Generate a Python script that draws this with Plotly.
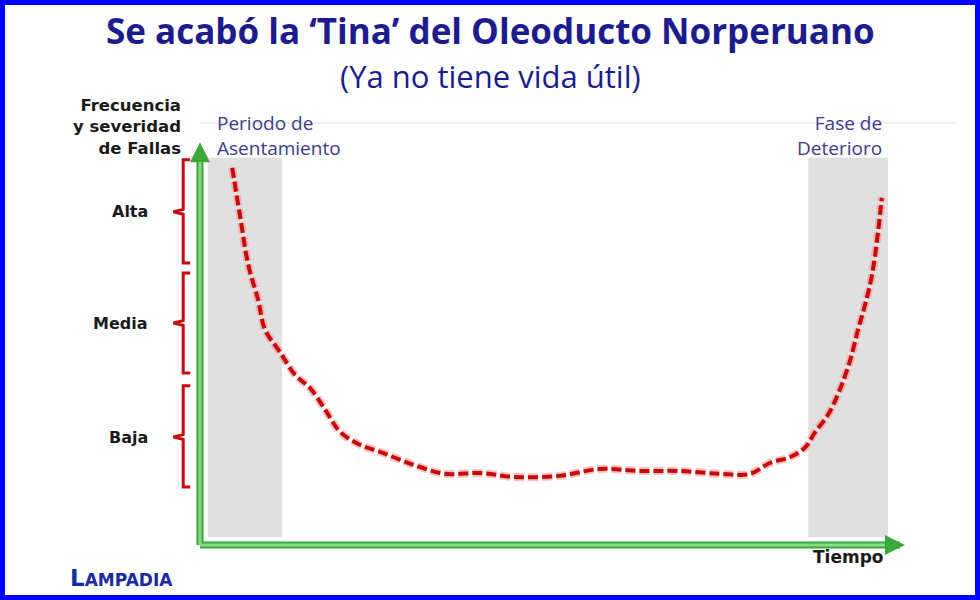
import plotly.graph_objects as go

# ---- data (time 0..100, frequency/severity 0..100) ----
tiempo = [4.6, 5.7, 6.9, 8.3, 9.3, 11.4, 13.6, 15.7, 17.9, 20.0, 22.9, 25.7, 28.6,
          31.4, 35.0, 40.0, 45.0, 51.4, 57.1, 62.9, 68.6, 74.3, 78.6, 81.4, 84.3,
          86.4, 87.9, 89.7, 91.4, 92.9, 94.0, 95.0, 96.0, 96.9, 97.4]
frecuencia = [94.3, 82.5, 70.0, 61.3, 53.8, 48.3, 42.5, 39.3, 33.8, 28.3, 25.0, 23.3, 21.3,
              19.5, 17.8, 18.0, 17.0, 17.3, 19.0, 18.5, 18.5, 17.8, 17.8, 20.5, 22.0,
              24.3, 28.3, 32.5, 38.8, 46.3, 53.8, 60.0, 67.5, 78.8, 86.8]

niveles = ["Alta", "Media", "Baja"]
nivel_top = [96.3, 68.0, 39.8]
nivel_bot = [70.5, 43.0, 14.5]
nivel_mid = [83.3, 55.5, 27.0]

fases = ["Periodo de<br>Asentamiento", "Fase de<br>Deterioro"]
fase_x0 = [1.1, 86.9]
fase_x1 = [11.7, 98.3]
fase_y0 = 2.0
fase_y1 = 96.8

NAVY = "#1c1c8e"
SLATE = "#3b3b8c"
RED = "#c40c0c"
GREEN_D = "#3aa83a"
GREEN_L = "#86dd86"

fig = go.Figure()

shapes = []
# grey phase bands
for a, b in zip(fase_x0, fase_x1):
    shapes.append(dict(type="rect", xref="x", yref="y", x0=a, x1=b, y0=fase_y0, y1=fase_y1,
                       fillcolor="#e0e0e0", line=dict(width=0), layer="below"))
# faint guide line
shapes.append(dict(type="line", xref="x", yref="y", x0=0, x1=108, y0=105.5, y1=105.5,
                   line=dict(color="#f0f0f0", width=2), layer="below"))

# braces
for t, b, m in zip(nivel_top, nivel_bot, nivel_mid):
    xv = -2.4  # vertical stroke
    xh = -1.4  # hooks to the right
    xp = -3.8  # point to the left
    path = (f"M {xh},{t} L {xv},{t} L {xv},{m+0.6} L {xp},{m} L {xv},{m-0.6} "
            f"L {xv},{b} L {xh},{b}")
    shapes.append(dict(type="path", xref="x", yref="y", path=path,
                       line=dict(color=RED, width=3)))

# green axes
for w, c in [(7, GREEN_D), (3, GREEN_L)]:
    shapes.append(dict(type="line", xref="x", yref="y", x0=0, y0=0, x1=0, y1=98.5,
                       line=dict(color=c, width=w)))
    shapes.append(dict(type="line", xref="x", yref="y", x0=0, y0=0, x1=100.0, y1=0,
                       line=dict(color=c, width=w)))

# blue frame
shapes.append(dict(type="rect", xref="paper", yref="paper", x0=0, x1=1, y0=0, y1=1,
                   line=dict(color="#0000ff", width=10)))

# failure curve: halo + dashed line
fig.add_trace(go.Scatter(x=tiempo, y=frecuencia, mode="lines",
                         line=dict(color="rgba(255,140,140,0.55)", width=8,
                                   dash="10px,4px", shape="spline"),
                         hoverinfo="skip", showlegend=False))
fig.add_trace(go.Scatter(x=tiempo, y=frecuencia, mode="lines",
                         line=dict(color=RED, width=4, dash="10px,4px", shape="spline"),
                         hoverinfo="skip", showlegend=False))

ann = []
# arrowheads
ann.append(dict(x=0, y=100.7, ax=0, ay=96.5, xref="x", yref="y", axref="x", ayref="y",
                text="", showarrow=True, arrowhead=2, arrowsize=1.0, arrowwidth=4,
                arrowcolor=GREEN_D))
ann.append(dict(x=100.7, y=0, ax=98.5, ay=0, xref="x", yref="y", axref="x", ayref="y",
                text="", showarrow=True, arrowhead=2, arrowsize=1.0, arrowwidth=4,
                arrowcolor=GREEN_D))

ann.append(dict(x=0.5, y=1 - 31 / 600, xref="paper", yref="paper", showarrow=False,
                text="<b>Se acabó la ‘Tina’ del Oleoducto Norperuano</b>",
                font=dict(family="Open Sans", size=35, color=NAVY), yanchor="middle"))
ann.append(dict(x=0.5, y=1 - 76 / 600, xref="paper", yref="paper", showarrow=False,
                text="(Ya no tiene vida útil)",
                font=dict(family="Open Sans", size=31, color=NAVY), yanchor="middle"))

ann.append(dict(x=-2.4, y=(545 - 127) / 4, xref="x", yref="y", showarrow=False,
                text="<b>Frecuencia<br>y severidad<br>de Fallas</b>", align="right",
                xanchor="right", yanchor="middle",
                font=dict(family="DejaVu Sans", size=16.5, color="#1a1a1a")))

for n, m in zip(niveles, nivel_mid):
    ann.append(dict(x=-7.1, y=m, xref="x", yref="y", showarrow=False,
                    text=f"<b>{n}</b>", xanchor="right", yanchor="middle",
                    font=dict(family="DejaVu Sans", size=16, color="#1a1a1a")))

# phase labels
ann.append(dict(x=fase_x0[0] + 1.1, y=(545 - 135) / 4, xref="x", yref="y", showarrow=False,
                text=fases[0], align="left", xanchor="left", yanchor="middle",
                font=dict(family="Open Sans", size=19, color=SLATE)))
ann.append(dict(x=fase_x1[1] - 0.6, y=(545 - 135) / 4, xref="x", yref="y", showarrow=False,
                text=fases[1], align="right", xanchor="right", yanchor="middle",
                font=dict(family="Open Sans", size=19, color=SLATE)))

ann.append(dict(x=(848 - 200) / 7, y=(545 - 557) / 4, xref="x", yref="y", showarrow=False,
                text="<b>Tiempo</b>", xanchor="center", yanchor="middle",
                font=dict(family="DejaVu Sans", size=17, color="#1a1a1a")))

ann.append(dict(x=68 / 980, y=1 - 578 / 600, xref="paper", yref="paper", showarrow=False,
                text="<b><span style='font-size:23px'>L</span>AMPADIA</b>",
                xanchor="left", yanchor="middle",
                font=dict(family="DejaVu Sans", size=17, color="#1a2aa0")))

fig.update_layout(
    width=980, height=600,
    margin=dict(l=0, r=0, t=0, b=0),
    paper_bgcolor="white", plot_bgcolor="white",
    xaxis=dict(range=[-200 / 7, 780 / 7], visible=False, fixedrange=True),
    yaxis=dict(range=[-55 / 4, 545 / 4], visible=False, fixedrange=True),
    shapes=shapes, annotations=ann, showlegend=False,
)

fig.write_html("out.html", config={"displayModeBar": False},
               post_script="document.body.style.margin='0';document.body.style.overflow='hidden';")
